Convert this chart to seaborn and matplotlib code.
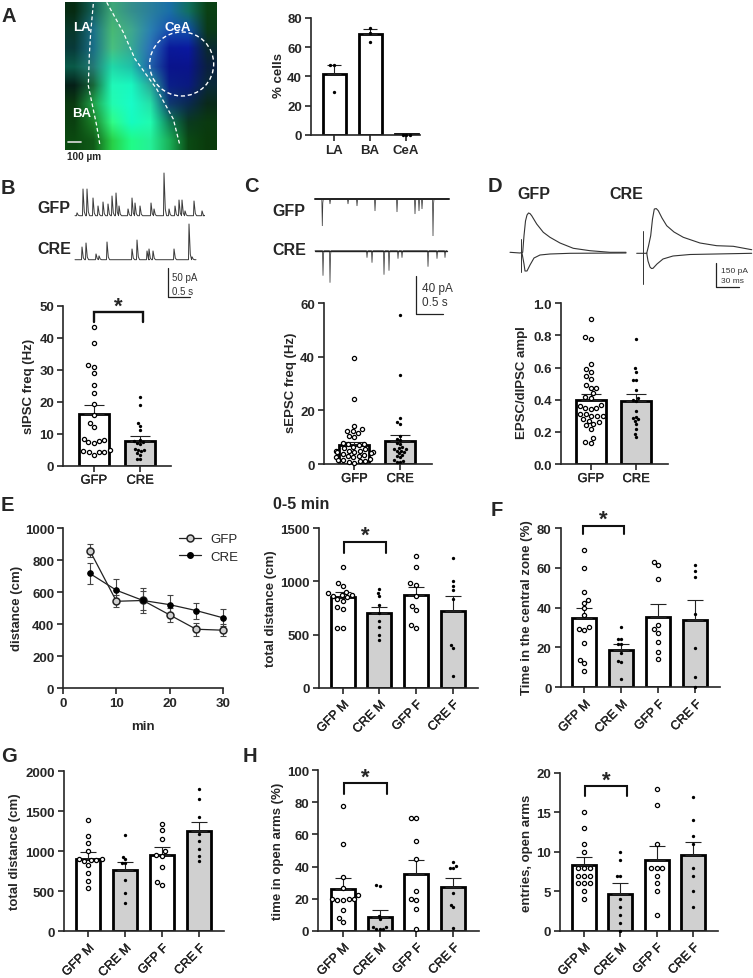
import numpy as np
import pandas as pd
import seaborn as sns
import matplotlib
matplotlib.use('Agg')
import matplotlib.pyplot as plt
import matplotlib.patheffects as pe
from matplotlib.colors import to_rgb
from matplotlib.lines import Line2D
from matplotlib.patches import Circle

W, H = 753, 979

# panel A
a_groups = ['LA', 'BA', 'CeA']
a_means = [41.5, 69, 0.5]
a_sem = [6, 3, 0.2]
a_pts = [[47.5, 47.5, 29.5], [73, 69.5, 63.5], [0.3, 0.3, 0.3]]

two = ['GFP', 'CRE']
four = ['GFP M', 'CRE M', 'GFP F', 'CRE F']

# panel B
b_means = [16.3, 7.8]
b_sem = [2.7, 1.5]
b_pts = [[43.3, 38.5, 31.5, 31, 29, 25.3, 22.7, 19.2, 16, 13.5, 12.2, 8.5, 8, 7.8, 7.5, 7, 5, 4.5, 4.3, 4.3, 4.2, 3.5],
         [21.5, 19, 13.2, 12.3, 11.2, 8, 7.7, 7.5, 7, 6.8, 5.3, 5, 4.8, 4.5, 4, 3.5, 2, 2]]
# panel C
c_means = [7, 8.7]
c_sem = [1.3, 2.1]
c_pts = [[39.5, 24.3, 14.3, 13, 12.5, 12.3, 11.5, 10.5, 10, 8, 7.5, 7.3, 7, 6.5, 6, 5.5, 5, 5, 4.7, 4.5, 4.5, 4.3, 4, 3.7,
          3.5, 3, 3, 2.5, 2.5, 2, 1.5, 1.5, 1, 1, 0.7, 0.5],
         [55.5, 33.3, 17, 15.5, 15, 10.3, 9.5, 9, 8, 7.5, 6.5, 6, 5.5, 5.5, 5, 5, 4.5, 4, 3.5, 3, 2.5, 1.5, 1, 0.7, 0.7]]
# panel D
d_means = [0.4, 0.39]
d_sem = [0.037, 0.045]
d_pts = [[.9, .79, .78, .625, .59, .57, .55, .53, .49, .47, .47, .44, .42, .41, .37, .36, .35, .35, .34, .31, .31, .3, .3,
          .3, .28, .27, .26, .25, .24, .22, .16, .14, .13],
         [.78, .595, .575, .52, .52, .46, .41, .4, .395, .33, .295, .285, .28, .27, .25, .22, .185, .165]]
# panel E, time course
e_min = [5, 10, 15, 20, 25, 30]
e_gfp = [860, 543, 548, 458, 368, 362]
e_gfp_err = [40, 38, 80, 45, 40, 38]
e_cre = [717, 612, 548, 522, 485, 440]
e_cre_err = [65, 70, 60, 60, 50, 53]
# panel E, 0-5 min
e2_means = [850, 705, 870, 725]
e2_sem = [50, 55, 80, 140]
e2_pts = [[1135, 985, 960, 900, 890, 875, 870, 860, 850, 830, 820, 760, 740, 560, 560],
          [925, 890, 860, 780, 700, 630, 570, 495, 450],
          [1235, 1135, 985, 970, 860, 770, 730, 590, 565],
          [1220, 1005, 960, 920, 830, 405, 375, 110]]
# panel F
f_means = [34.7, 18.5, 35.5, 33.8]
f_sem = [5, 3, 6.5, 10]
f_pts = [[69, 59.7, 47.8, 44, 42.5, 39.8, 36.5, 30.5, 29.5, 29, 22, 13.5, 12, 8],
         [30.5, 24.5, 24.5, 21.7, 21.5, 17, 13, 12.5, 4],
         [63, 61.5, 54.3, 31.5, 29.5, 27.5, 22.5, 17.5, 14],
         [61.5, 58.5, 55.5, 37, 19.5, 5.3, 0]]
# panel G
g_means = [910, 770, 960, 1250]
g_sem = [80, 95, 90, 120]
g_pts = [[1390, 1190, 1110, 1005, 905, 900, 895, 890, 880, 830, 725, 630, 540],
         [1205, 935, 905, 860, 860, 640, 480, 350],
         [1340, 1270, 1160, 1000, 950, 940, 810, 620, 580],
         [1780, 1650, 1430, 1220, 1130, 1030, 940, 880]]
# panel H, time in open arms
h1_means = [26.3, 8.7, 35.3, 27.3]
h1_sem = [6.4, 4, 8.7, 5.7]
h1_pts = [[77.5, 54.3, 33.5, 26.8, 22, 20, 19.7, 19.5, 19.3, 19, 13, 8, 5.5],
          [28.5, 28, 9, 7, 2, 2, 1, 1, 1],
          [70, 70, 55.8, 45, 25, 20, 19, 13.5, 1.3],
          [43, 40.5, 39, 39, 23.5, 16.3, 14.5, 1.8]]
# panel H, entries
h2_means = [8.3, 4.7, 9, 9.6]
h2_sem = [1, 1.3, 1.7, 1.7]
h2_pts = [[15, 13, 11, 10, 8, 8, 8, 7, 7, 7, 6, 6, 6, 5, 4],
          [10, 9, 7, 7, 4, 3, 2, 1, 0],
          [18, 16, 11, 8, 8, 8, 7, 6, 5, 2],
          [17, 14, 12, 11, 8, 7, 5, 3]]

# recordings in figure pixels
b_gfp_t = [77, 83, 87, 93, 98, 103, 108, 112, 116, 119, 128, 132, 135, 140, 151, 154, 164, 169, 175, 179, 182, 185, 194, 202]
b_gfp_amp = [3, 27, 27, 18, 10, 14, 12, 20, 23, 10, 7, 18, 13, 10, 13, 7, 43, 7, 10, 16, 16, 5, 15, 5]
b_cre_t = [82, 86, 96, 99, 107, 132, 137, 147, 149, 153, 174, 189, 192]
b_cre_amp = [13, 17, 6, 4, 18, 11, 20, 9, 11, 9, 11, 36, 3]
c_gfp_t = [322.3, 330, 348, 357, 375, 397, 415, 419, 422, 433]
c_gfp_amp = [27, 5, 5, 7, 12, 13, 15, 12, 10, 37]
c_cre_t = [323, 330, 367, 372, 384, 389, 398, 402, 428, 437, 445]
c_cre_amp = [25, 32, 7, 12, 24, 20, 8, 7, 16, 8, 7]
d_gfp_up_x = [510, 520, 522.7, 524, 525.5, 527, 528.5, 530, 531.7, 536.7, 543.3, 550, 560, 573.3, 590, 610, 626]
d_gfp_up_y = [253.3, 254, 253.3, 236.7, 222, 216, 214, 214.6, 216.7, 225, 233.3, 238.3, 244, 249.3, 251.7, 253.3, 253.3]
d_gfp_dn_x = [522, 524, 525, 527, 530, 534, 540, 550, 570, 626]
d_gfp_dn_y = [254, 265, 272, 272, 266, 259, 256, 255, 254.3, 254]
d_cre_up_x = [636.7, 646.7, 648.5, 650.7, 652.5, 654.3, 656.3, 658.3, 662, 666.7, 674, 683.3, 700, 716.7, 733.3, 751.7]
d_cre_up_y = [254.3, 254.3, 247, 236.7, 220, 210, 209.6, 211.7, 219, 226.7, 233, 238.3, 244, 246.7, 247.3, 250.7]
d_cre_dn_x = [646.7, 648, 650, 651.5, 653, 657, 663, 673, 690, 751.7]
d_cre_dn_y = [254, 262, 268, 269.5, 269.3, 265, 260, 257, 255.5, 254.3]

# coarse colours of the micrograph
micro = [
    ['#062b12', '#12605a', '#3fa878', '#358f8c', '#2a7f9c', '#1a6fa8', '#127060', '#0a4014'],
    ['#08382a', '#1a6f88', '#48b874', '#3fa88e', '#2a80b0', '#1850b0', '#1050a8', '#0a3a18'],
    ['#083a3a', '#1a6f88', '#48c080', '#35a894', '#2a70b8', '#0a1a9a', '#0a18a0', '#0a2a30'],
    ['#0a5a48', '#257a76', '#20d8a8', '#20c0a8', '#2060a8', '#0a148c', '#0a148c', '#0a2040'],
    ['#052018', '#18683a', '#20f8b8', '#18f8c0', '#2aa898', '#0a1f88', '#0a1a80', '#0a2a38'],
    ['#0a3a10', '#20a048', '#22fcb0', '#18fcc8', '#25e0a8', '#103a70', '#0a2a50', '#0a2a1a'],
    ['#0a4010', '#1a8028', '#30fc88', '#15fcc0', '#20fcb0', '#108058', '#0a3a20', '#0a3a10'],
    ['#0a4a10', '#105a18', '#28d048', '#20fc88', '#25f098', '#1ab058', '#0a4a14', '#0a3a0c'],
]
border_l_x = [93.3, 90.7, 89.3, 88.3, 96.7, 100]
border_l_y = [5, 33.3, 56.7, 86.7, 126.7, 146.7]
border_r_x = [106.7, 123.3, 135, 156.7, 173.3, 180]
border_r_y = [3.3, 33.3, 60, 90, 120, 146.7]

sns.set_style('ticks')
plt.rcParams['font.family'] = ['Liberation Sans', 'DejaVu Sans']
plt.rcParams['axes.linewidth'] = 1.2

fig = plt.figure(figsize=(W / 100, H / 100), dpi=100)
TICK = 9.5
semi = [pe.withStroke(linewidth=0.2, foreground='black')]


def make_axes(l, r, t, b):
    ax = fig.add_axes([l / W, 1 - b / H, (r - l) / W, (b - t) / H])
    sns.despine(ax=ax)
    ax.patch.set_alpha(0)
    ax.tick_params(length=4.5, width=1.2, pad=2, labelsize=TICK)
    return ax


def label_y(ax, text, lx, ly, l, r, t, b):
    ax.set_ylabel(text, fontsize=TICK, fontweight='bold', va='center')
    ax.yaxis.set_label_coords((lx - l) / (r - l), (b - ly) / (b - t))


def bar_panel(box, centers, groups, means, sem, pts, ymax, yticks, ylab, lab_xy, barw=24, rot=True, ytick_fmt=None,
              all_filled=False):
    l, r, t, b = box
    ax = make_axes(l, r, t, b)
    sp = centers[1] - centers[0]
    palette = {g: ('#d0d0d0' if g.startswith('CRE') else 'white') for g in groups}
    sns.barplot(x=groups, y=means, hue=groups, order=groups, palette=palette, width=barw / sp, saturation=1,
                edgecolor='black', linewidth=2.0, errorbar=None, legend=False, ax=ax)
    ax.errorbar(range(len(groups)), means, yerr=[[0] * len(groups), sem], fmt='none', ecolor='#222222',
                elinewidth=0.8, capsize=7 * barw / 30, capthick=0.8, zorder=3)
    df = pd.DataFrame({'group': np.repeat(groups, [len(p) for p in pts]), 'value': np.concatenate(pts)})
    if all_filled:
        is_open = np.zeros(len(df), dtype=bool)
    else:
        is_open = df['group'].str.startswith('GFP').values
    if is_open.any():
        sns.swarmplot(data=df[is_open], x='group', y='value', order=groups, color='white', edgecolor='black',
                      linewidth=0.9, size=3.0, warn_thresh=1, zorder=5, ax=ax)
    sns.swarmplot(data=df[~is_open], x='group', y='value', order=groups, color='black', size=2.4, warn_thresh=1,
                  zorder=5, ax=ax)
    for coll in ax.collections:
        coll.set_clip_on(False)
    ax.set_xlim((l - centers[0]) / sp, (r - centers[0]) / sp)
    ax.set_ylim(0, ymax)
    ax.set_yticks(yticks)
    if ytick_fmt:
        ax.set_yticklabels([ytick_fmt % v for v in yticks])
    for lab in ax.get_yticklabels():
        lab.set_fontweight('bold')
    ax.set_xticks(range(len(groups)))
    ax.set_xlabel('')
    if rot:
        ax.set_xticklabels(groups, rotation=45, ha='right', rotation_mode='anchor', fontsize=9)
        ax.tick_params(axis='x', pad=3.5)
    else:
        ax.set_xticklabels(groups, fontsize=9.3 if not all_filled else TICK,
                           fontweight='bold' if all_filled else 'normal')
    if not all_filled:
        for lab in ax.get_xticklabels():
            lab.set_path_effects(semi)
    label_y(ax, ylab, lab_xy[0], lab_xy[1], l, r, t, b)
    return ax


# micrograph
ax_img = fig.add_axes([65 / W, 1 - 151 / H, 152 / W, 148 / H])
ax_img.imshow(np.array([[to_rgb(c) for c in row] for row in micro]), interpolation='bilinear', aspect='auto',
              extent=(65, 217, 151, 3))
ax_img.plot(border_l_x, border_l_y, color='white', lw=0.9, ls=(0, (3, 2)))
ax_img.plot(border_r_x, border_r_y, color='white', lw=0.9, ls=(0, (3, 2)))
ax_img.add_patch(Circle((181.7, 65), 32, fill=False, ec='white', lw=1.0, ls=(0, (3, 2))))
ax_img.plot([68.3, 81], [142.7, 142.7], color='#dddddd', lw=1.2)
for txt, tx, ty in [('LA', 81.5, 28), ('CeA', 178, 28), ('BA', 81.5, 114)]:
    ax_img.text(tx, ty, txt, color='white', fontsize=TICK, fontweight='bold', ha='center', va='center')
ax_img.set_xlim(65, 217)
ax_img.set_ylim(151, 3)
ax_img.axis('off')

# bar charts
bar_panel((311, 420, 18.7, 136), [334, 370, 405.5], a_groups, a_means, a_sem, a_pts, 80, [0, 20, 40, 60, 80],
          '% cells', (279, 75), barw=23, rot=False, all_filled=True)
bar_panel((63.3, 171, 306.7, 466.7), [93.7, 140], two, b_means, b_sem, b_pts, 50, [0, 10, 20, 30, 40, 50],
          'sIPSC freq (Hz)', (29, 386.7), barw=30, rot=False)
bar_panel((324, 431.7, 304.3, 465), [354.3, 400], two, c_means, c_sem, c_pts, 60, [0, 20, 40, 60],
          'sEPSC freq (Hz)', (290.7, 383), barw=30, rot=False)
bar_panel((560.7, 667.7, 304.3, 465), [590.7, 636], two, d_means, d_sem, d_pts, 1.0, [0, .2, .4, .6, .8, 1.0],
          'EPSC/dIPSC ampl', (521.7, 383), barw=30, rot=False, ytick_fmt='%.1f')
bar_panel((318.7, 478.3, 529.3, 688.7), [342.7, 379.3, 416.3, 453], four, e2_means, e2_sem, e2_pts, 1500,
          [0, 500, 1000, 1500], 'total distance (cm)', (271, 609))
bar_panel((560.7, 720, 529, 688.3), [584.3, 621.3, 658, 694.7], four, f_means, f_sem, f_pts, 80,
          [0, 20, 40, 60, 80], 'Time in the central zone (%)', (526.7, 608))
bar_panel((63.7, 224.3, 772.3, 932.3), [88, 125, 162, 199], four, g_means, g_sem, g_pts, 2000,
          [0, 500, 1000, 1500, 2000], 'total distance (cm)', (15, 851.7))
bar_panel((318.3, 479, 771.3, 931.7), [343, 379.7, 416.7, 453.7], four, h1_means, h1_sem, h1_pts, 100,
          [0, 20, 40, 60, 80, 100], 'time in open arms (%)', (278, 851.7))
bar_panel((560.3, 718.3, 774, 931.7), [584, 620.3, 656.7, 693], four, h2_means, h2_sem, h2_pts, 20,
          [0, 5, 10, 15, 20], 'entries, open arms', (526.7, 853))

# time course
box_e = (63.3, 222.7, 529.3, 689)
ax_e = make_axes(*box_e)
for ys, errs in [(e_gfp, e_gfp_err), (e_cre, e_cre_err)]:
    ax_e.errorbar(e_min, ys, yerr=errs, fmt='none', ecolor='#444444', elinewidth=0.8, capsize=2.5, capthick=0.8,
                  clip_on=False)
sns.lineplot(x=e_min, y=e_gfp, color='#222222', lw=0.9, marker='o', markersize=5, markerfacecolor='#d0d0d0',
             markeredgecolor='#222222', markeredgewidth=1.1, errorbar=None, clip_on=False, ax=ax_e)
sns.lineplot(x=e_min, y=e_cre, color='#222222', lw=0.9, marker='o', markersize=4, markerfacecolor='black',
             markeredgecolor='black', errorbar=None, clip_on=False, ax=ax_e)
ax_e.set_xlim(0, 30)
ax_e.set_ylim(0, 1000)
ax_e.set_xticks([0, 10, 20, 30])
ax_e.set_yticks([0, 200, 400, 600, 800, 1000])
for lab in ax_e.get_xticklabels() + ax_e.get_yticklabels():
    lab.set_fontweight('bold')
ax_e.set_xlabel('min', fontsize=TICK, fontweight='bold', labelpad=8)
label_y(ax_e, 'distance (cm)', 16.7, 608, *box_e)
ax_e.legend(handles=[
    Line2D([], [], color='#222222', lw=0.9, marker='o', ms=5, mfc='#d0d0d0', mec='#222222', mew=1.1, label='GFP'),
    Line2D([], [], color='#222222', lw=0.9, marker='o', ms=4, mfc='black', mec='black', label='CRE')],
    frameon=False, fontsize=9.5, loc='upper left', bbox_to_anchor=(0.725, 0.97), borderpad=0, borderaxespad=0,
    handlelength=1.7, handletextpad=0.7, labelspacing=0.41)

# overlay in figure pixels for panel letters, traces, scale bars and brackets
ov = fig.add_axes([0, 0, 1, 1], zorder=10)
ov.set_xlim(0, W)
ov.set_ylim(H, 0)
ov.axis('off')
ov.patch.set_alpha(0)


def spikes(times, amps, base, sign, x0, x1, lw, decay):
    xs, ys = [x0], [base]
    for t, a in zip(times, amps):
        xs += [t - 0.5, t, t + decay, t + 2 * decay]
        ys += [base, base - sign * a, base - sign * a * 0.15, base]
    xs.append(x1)
    ys.append(base)
    ov.plot(xs, ys, color='#3a3a3a', lw=lw, solid_joinstyle='miter')


spikes(b_gfp_t, b_gfp_amp, 216.7, 1, 75, 203, 0.7, 1.3)
spikes(b_cre_t, b_cre_amp, 260.7, 1, 75, 196, 0.7, 1.3)
spikes(c_gfp_t, c_gfp_amp, 200, -1, 315, 449, 0.55, 0.5)
spikes(c_cre_t, c_cre_amp, 251.7, -1, 315, 447, 0.55, 0.5)
ov.plot([315, 449], [200, 200], color='#222222', lw=1.4)
ov.plot([315, 447], [251.7, 251.7], color='#222222', lw=1.0)
for xs, ys in [(d_gfp_up_x, d_gfp_up_y), (d_gfp_dn_x, d_gfp_dn_y), (d_cre_up_x, d_cre_up_y), (d_cre_dn_x, d_cre_dn_y)]:
    ov.plot(xs, ys, color='#333333', lw=0.8)
ov.plot([520.7, 520.7], [240, 273], color='#333333', lw=0.7)
ov.plot([643.3, 643.3], [232.3, 285], color='#333333', lw=0.7)

for x, y0, y1, x2 in [(167.7, 269, 298.3, 190), (416, 277.3, 315, 442.7), (716, 264.3, 287.7, 738.7)]:
    ov.plot([x, x, x2], [y0, y1, y1], color='#222222', lw=0.9)
for txt, tx, ty, fs in [('50 pA', 171.7, 278.3, 7), ('0.5 s', 171.7, 291.7, 7), ('40 pA', 422.3, 288.7, 8.5),
                        ('0.5 s', 422.3, 302.7, 8.5), ('150 pA', 721, 271.7, 6), ('30 ms', 721, 281.7, 6)]:
    ov.text(tx, ty, txt, fontsize=fs, color='#333333', ha='left', va='center')

for txt, tx, ty in [('GFP', 37, 208.5), ('CRE', 37, 249), ('GFP', 272, 211), ('CRE', 272, 250.7),
                    ('GFP', 517, 194.7), ('CRE', 609, 194.7)]:
    ov.text(tx, ty, txt, fontsize=11.5, fontweight='bold', ha='left', va='center')

for txt, tx, ty in [('A', 1, 16), ('B', 1, 188), ('C', 244, 186), ('D', 488, 186), ('E', 1, 506), ('F', 491, 510),
                    ('G', 1, 757), ('H', 243, 757)]:
    ov.text(tx, ty, txt, fontsize=14.5, fontweight='bold', ha='left', va='center')
ov.text(67.5, 157.5, '100 µm', fontsize=7.2, fontweight='bold', ha='left', va='center')
ov.text(273.5, 505, '0-5 min', fontsize=11.5, fontweight='bold', ha='left', va='center')

for x0, x1, top, bot, lw in [(93.7, 143.3, 313.3, 322.7, 1.7), (344.3, 386.3, 542.7, 554, 1.5),
                             (583.3, 623.7, 526.7, 535, 1.5), (344.3, 386.7, 784, 795, 1.5),
                             (585.3, 627.3, 787, 797.3, 1.5)]:
    ov.plot([x0, x0, x1, x1], [bot, top, top, bot], color='#111111', lw=lw, solid_joinstyle='miter')
    ov.text((x0 + x1) / 2, top - 6, '*', fontsize=16, fontweight='bold', ha='center', va='center')

fig.savefig('out.png', dpi=100)
